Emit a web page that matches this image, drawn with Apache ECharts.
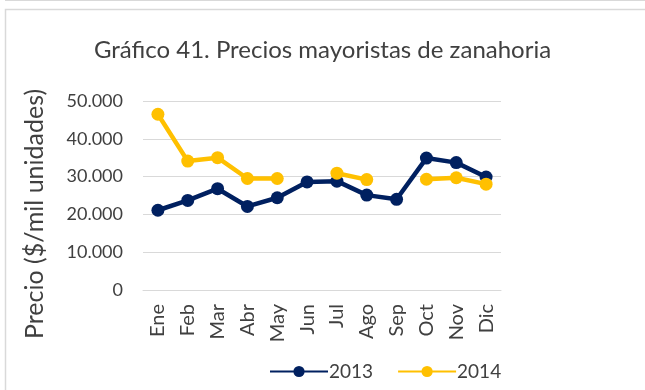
<!DOCTYPE html>
<html>
<head>
<meta charset="utf-8">
<script src="https://cdn.jsdelivr.net/npm/echarts@6/dist/echarts.min.js"></script>
<style>
  html, body { margin: 0; padding: 0; background: #fff; }
  #chart { width: 645px; height: 390px; }
</style>
</head>
<body>
<div id="chart"></div>
<script>
// Meses
const months = ['Ene', 'Feb', 'Mar', 'Abr', 'May', 'Jun', 'Jul', 'Ago', 'Sep', 'Oct', 'Nov', 'Dic'];
// Precio mayorista ($/mil unidades)
const prices2013 = [21100, 23700, 26800, 22100, 24400, 28600, 28800, 25100, 24000, 34900, 33700, 29900];
const prices2014 = [46500, 34100, 35000, 29500, 29500, null, 30900, 29200, null, 29300, 29700, 28000];
const yTicks = [0, 10000, 20000, 30000, 40000, 50000];

const FONT = 'Lato';
const TEXT = '#404040';

const fmt = v => v === 0 ? '0' : v.toLocaleString('de-DE');

const chart = echarts.init(document.getElementById('chart'));
chart.setOption({
  animation: false,
  textStyle: { fontFamily: FONT },
  title: {
    text: 'Gráfico 41. Precios mayoristas de zanahoria',
    left: 'center',
    top: 33,
    textStyle: { fontFamily: FONT, fontSize: 24, fontWeight: 'normal', color: TEXT }
  },
  graphic: [
    { type: 'line', shape: { x1: 5, y1: 0.5, x2: 645, y2: 0.5 }, style: { stroke: '#d9d9d9', lineWidth: 1 } },
    { type: 'polyline', shape: { points: [[5.5, 390], [5.5, 9.5], [645, 9.5]] }, style: { stroke: '#d9d9d9', lineWidth: 1.5, fill: null } },
    {
      type: 'text',
      x: 35, y: 214,
      rotation: Math.PI / 2,
      style: {
        text: 'Precio ($/mil unidades)',
        fontFamily: FONT, fontSize: 25, fill: TEXT,
        align: 'center', verticalAlign: 'middle'
      }
    }
  ],
  legend: {
    bottom: 4,
    left: 264,
    itemWidth: 58,
    itemHeight: 14,
    itemGap: 24,
    textStyle: { fontFamily: FONT, fontSize: 19, color: TEXT, padding: [0, 0, 0, -4] },
    data: ['2013', '2014']
  },
  grid: { left: 143, right: 144, top: 101, bottom: 100 },
  xAxis: {
    type: 'category',
    data: months,
    boundaryGap: true,
    axisLine: { lineStyle: { color: '#d9d9d9', width: 1 } },
    axisTick: { show: false },
    axisLabel: { rotate: 90, margin: 14, fontFamily: FONT, fontSize: 20, color: TEXT, interval: 0 }
  },
  yAxis: {
    type: 'value',
    min: yTicks[0],
    max: yTicks[yTicks.length - 1],
    interval: 10000,
    axisLine: { show: false },
    axisTick: { show: false },
    splitLine: { lineStyle: { color: '#d9d9d9', width: 1 } },
    axisLabel: { margin: 20, fontFamily: FONT, fontSize: 18, color: TEXT, formatter: fmt }
  },
  series: [
    {
      name: '2013', type: 'line', data: prices2013,
      symbol: 'circle', symbolSize: 13,
      lineStyle: { width: 4.5, color: '#002060' },
      itemStyle: { color: '#002060' },
      z: 2
    },
    {
      name: '2014', type: 'line', data: prices2014,
      symbol: 'circle', symbolSize: 13,
      connectNulls: false,
      lineStyle: { width: 4.5, color: '#FFC000' },
      itemStyle: { color: '#FFC000' },
      z: 3
    }
  ]
});
</script>
</body>
</html>
